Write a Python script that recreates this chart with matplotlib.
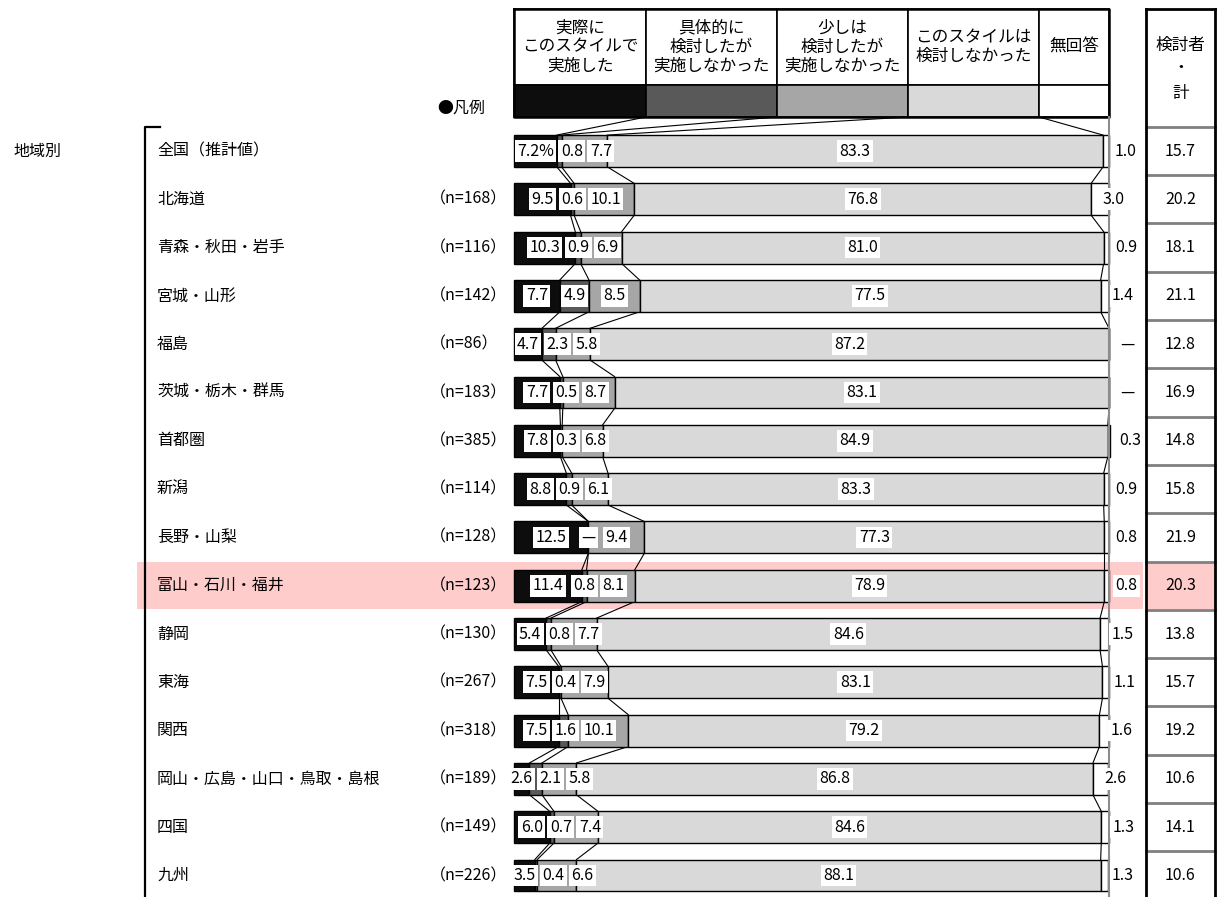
import numpy as np
import matplotlib
matplotlib.use("Agg")
import matplotlib.pyplot as plt
from matplotlib.patches import Rectangle

plt.rcParams['font.family'] = ['Noto Sans CJK JP', 'DejaVu Sans']

# ---- data ----
regions = ["全国（推計値）", "北海道", "青森・秋田・岩手", "宮城・山形", "福島",
           "茨城・栃木・群馬", "首都圏", "新潟", "長野・山梨", "富山・石川・福井",
           "静岡", "東海", "関西", "岡山・広島・山口・鳥取・島根", "四国", "九州"]
n_sizes = [None, 168, 116, 142, 86, 183, 385, 114, 128, 123, 130, 267, 318, 189, 149, 226]
implemented    = [7.2, 9.5, 10.3, 7.7, 4.7, 7.7, 7.8, 8.8, 12.5, 11.4, 5.4, 7.5, 7.5, 2.6, 6.0, 3.5]
concrete_no    = [0.8, 0.6, 0.9, 4.9, 2.3, 0.5, 0.3, 0.9, 0.0, 0.8, 0.8, 0.4, 1.6, 2.1, 0.7, 0.4]
little_no      = [7.7, 10.1, 6.9, 8.5, 5.8, 8.7, 6.8, 6.1, 9.4, 8.1, 7.7, 7.9, 10.1, 5.8, 7.4, 6.6]
not_considered = [83.3, 76.8, 81.0, 77.5, 87.2, 83.1, 84.9, 83.3, 77.3, 78.9, 84.6, 83.1, 79.2, 86.8, 84.6, 88.1]
no_answer      = [1.0, 3.0, 0.9, 1.4, 0.0, 0.0, 0.3, 0.9, 0.8, 0.8, 1.5, 1.1, 1.6, 2.6, 1.3, 1.3]
considered_total = [15.7, 20.2, 18.1, 21.1, 12.8, 16.9, 14.8, 15.8, 21.9, 20.3, 13.8, 15.7, 19.2, 10.6, 14.1, 10.6]
headers = ["実際に\nこのスタイルで\n実施した", "具体的に\n検討したが\n実施しなかった",
           "少しは\n検討したが\n実施しなかった", "このスタイルは\n検討しなかった", "無回答"]
highlight = "富山・石川・福井"

colors = ['#0d0d0d', '#595959', '#a6a6a6', '#d9d9d9', '#ffffff']
series = [implemented, concrete_no, little_no, not_considered, no_answer]

# ---- layout (pixels of the 1219x897 picture) ----
W, H = 1219, 897
X0, PX_PCT = 514, 5.95          # bar start, px per percent
ROW0, ROW_PX = 151, 48.3        # first row centre, row pitch
FS_TXT, FS_NUM = 11.5, 11.5

def px2x(px):
    return (px - X0) / PX_PCT

def py2y(py):
    return (py - ROW0) / ROW_PX

fig = plt.figure(figsize=(W / 100, H / 100), dpi=100)
ax = fig.add_axes([0, 0, 1, 1])
ax.set_xlim(px2x(0), px2x(W))
ax.set_ylim(py2y(H), py2y(0))
ax.axis('off')

y = np.arange(len(regions))
bar_h = 0.66

# highlight band
hi = regions.index(highlight)
ax.add_patch(Rectangle((px2x(137), hi - 0.49), px2x(1143) - px2x(137), 0.98,
                       fc='#ffcccc', ec='none', zorder=0))
ax.add_patch(Rectangle((px2x(1146), hi - 0.49), px2x(1215) - px2x(1146), 0.98,
                       fc='#ffcccc', ec='none', zorder=0))

# stacked bars
left = np.zeros(len(regions))
for vals, c in zip(series, colors):
    ax.barh(y, vals, left=left, height=bar_h, color=c, edgecolor='black',
            linewidth=1.0, zorder=3)
    left = left + np.array(vals)
cum = np.cumsum(np.array(series), axis=0)

# connector lines between bars
for i in range(len(regions) - 1):
    for k in range(4):
        ax.plot([cum[k, i], cum[k, i + 1]], [i + bar_h / 2, i + 1 - bar_h / 2],
                color='black', lw=0.8, zorder=2)

# legend header boxes
col_px = [514, 646, 777, 908, 1039, 1109]
top, mid, bot = py2y(9), py2y(85), py2y(117)
for k in range(5):
    xa, xb = px2x(col_px[k]), px2x(col_px[k + 1])
    ax.add_patch(Rectangle((xa, top), xb - xa, mid - top, fc='white', ec='black', lw=1.2, zorder=3))
    ax.add_patch(Rectangle((xa, mid), xb - xa, bot - mid, fc=colors[k], ec='black', lw=1.2, zorder=3))
    ax.text((xa + xb) / 2, (top + mid) / 2, headers[k], ha='center', va='center',
            fontsize=12, linespacing=1.15, zorder=4)
ax.plot([px2x(514), px2x(1109), px2x(1109), px2x(514), px2x(514)], [top, top, bot, bot, top],
        color='black', lw=1.8, zorder=4)
for k in range(1, 5):
    ax.plot([px2x(col_px[k]), cum[k - 1, 0]], [bot, -bar_h / 2], color='black', lw=0.8, zorder=2)
ax.text(px2x(437), py2y(108), "●凡例", ha='left', va='center', fontsize=FS_TXT)

# 100% line
ax.plot([100, 100], [bot, py2y(H)], color='#8c8c8c', lw=1.5, zorder=4)

# left labels
ax.text(px2x(13), 0, "地域別", ha='left', va='center', fontsize=FS_TXT)
ax.plot([px2x(160), px2x(145), px2x(145)], [py2y(127), py2y(127), py2y(H)],
        color='black', lw=1.6, zorder=2)
for i, (name, n) in enumerate(zip(regions, n_sizes)):
    ax.text(px2x(157), i, name, ha='left', va='center', fontsize=FS_TXT)
    if n is not None:
        ax.text(px2x(430), i, "（n=%d）" % n, ha='left', va='center', fontsize=FS_TXT)

# value labels inside bars
fig.canvas.draw()
renderer = fig.canvas.get_renderer()
box = dict(boxstyle='square,pad=0.15', fc='white', ec='none')

def fmt(v):
    return "—" if v == 0 else "%.1f" % v

for i in range(len(regions)):
    prev_right = -1e9
    for k in range(4):
        v = series[k][i]
        txt = fmt(v) + ("%" if (i == 0 and k == 0) else "")
        xc = cum[k, i] - v / 2
        t = ax.text(xc, i, txt, ha='center', va='center', fontsize=FS_NUM, bbox=box, zorder=5)
        w = t.get_window_extent(renderer).width + 5
        lpx = ax.transData.transform((xc, i))[0] - w / 2
        if lpx < prev_right + 2:
            lpx = prev_right + 2
            t.set_x(px2x(lpx + w / 2))
        prev_right = lpx + w
    # no answer label to the right
    ax.text(cum[3, i] + 1.9, i, fmt(no_answer[i]), ha='left', va='center',
            fontsize=FS_NUM, bbox=box, zorder=5)

# right column: 検討者・計
cx0, cx1 = px2x(1146), px2x(1215)
ax.plot([cx0, cx0], [py2y(9), py2y(H)], color='black', lw=2, zorder=4)
ax.plot([cx1, cx1], [py2y(9), py2y(H)], color='black', lw=2, zorder=4)
ax.plot([cx0, cx1], [py2y(9), py2y(9)], color='black', lw=2, zorder=4)
ax.text((cx0 + cx1) / 2, py2y(45), "検討者", ha='center', va='center', fontsize=12)
ax.text((cx0 + cx1) / 2, py2y(67), "・", ha='center', va='center', fontsize=12)
ax.text((cx0 + cx1) / 2, py2y(93), "計", ha='center', va='center', fontsize=12)
ax.plot([cx0, cx1], [-0.5, -0.5], color='#808080', lw=2, zorder=3)
for i, v in enumerate(considered_total):
    ax.text((cx0 + cx1) / 2, i, "%.1f" % v, ha='center', va='center', fontsize=FS_NUM)
    ax.plot([cx0, cx1], [i + 0.5, i + 0.5], color='#808080', lw=2, zorder=3)

fig.savefig("out.png", dpi=100)
